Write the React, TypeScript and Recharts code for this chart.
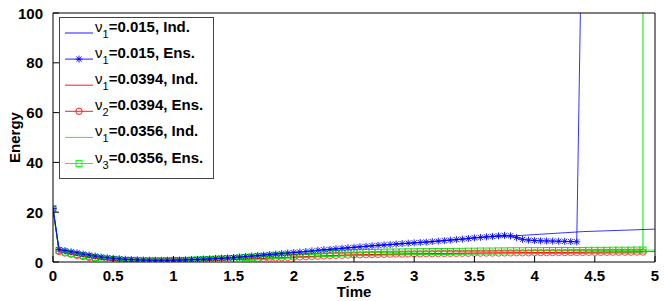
import React from 'react';
import { LineChart, Line, XAxis, YAxis, Legend } from 'recharts';

const FONT = '"Liberation Sans", Arial, Helvetica, sans-serif';
const STEP = 0.05;

const xTicks = [0, 0.5, 1, 1.5, 2, 2.5, 3, 3.5, 4, 4.5, 5];
const yTicks = [0, 20, 40, 60, 80, 100];

// ensemble runs, sampled every 0.05 from t = 0
const blueEns = [
  21.5, 5.0, 4.6, 4.1, 3.7, 3.2, 2.8, 2.4, 2.0, 1.7,
  1.5, 1.3, 1.1, 1.0, 0.9, 0.8, 0.75, 0.7, 0.7, 0.7,
  0.75, 0.8, 0.85, 0.95, 1.05, 1.15, 1.25, 1.4, 1.5, 1.65,
  1.8, 2.0, 2.2, 2.4, 2.6, 2.8, 3.0, 3.2, 3.4, 3.6,
  3.8, 4.0, 4.2, 4.45, 4.7, 4.9, 5.1, 5.3, 5.5, 5.7,
  5.9, 6.1, 6.3, 6.5, 6.7, 6.85, 7.0, 7.2, 7.4, 7.55,
  7.7, 7.85, 8.0, 8.2, 8.4, 8.6, 8.8, 9.0, 9.2, 9.45,
  9.7, 9.9, 10.1, 10.3, 10.5, 10.7, 10.5, 9.8, 9.1, 8.8,
  8.6, 8.5, 8.45, 8.4, 8.35, 8.3, 8.2, 8.1, 160,
];
const redEns = [
  21.5, 4.2, 3.6, 3.1, 2.6, 2.2, 1.8, 1.4, 1.1, 0.85,
  0.65, 0.5, 0.4, 0.3, 0.25, 0.2, 0.2, 0.2, 0.2, 0.25,
  0.3, 0.35, 0.4, 0.5, 0.55, 0.6, 0.7, 0.75, 0.8, 0.85,
  0.95, 1.05, 1.15, 1.25, 1.35, 1.45, 1.55, 1.65, 1.75, 1.85,
  1.95, 2.05, 2.15, 2.25, 2.35, 2.45, 2.55, 2.65, 2.7, 2.8,
  2.85, 2.9, 2.95, 3.0, 3.05, 3.1, 3.15, 3.2, 3.2, 3.25,
  3.3, 3.3, 3.35, 3.35, 3.4, 3.4, 3.45, 3.45, 3.5, 3.5,
  3.55, 3.55, 3.6, 3.6, 3.6, 3.65, 3.65, 3.7, 3.7, 3.7,
  3.75, 3.75, 3.75, 3.8, 3.8, 3.8, 3.85, 3.85, 3.85, 3.9,
  3.9, 3.9, 3.9, 3.95, 3.95, 3.95, 3.95, 4.0, 4.0,
];
const greenEns = [
  21.5, 4.6, 4.0, 3.5, 3.0, 2.6, 2.2, 1.8, 1.5, 1.2,
  1.0, 0.8, 0.65, 0.55, 0.5, 0.45, 0.45, 0.45, 0.45, 0.5,
  0.55, 0.6, 0.65, 0.75, 0.85, 0.95, 1.05, 1.15, 1.25, 1.35,
  1.45, 1.6, 1.75, 1.9, 2.05, 2.2, 2.35, 2.5, 2.6, 2.75,
  2.85, 2.95, 3.05, 3.15, 3.25, 3.35, 3.45, 3.5, 3.6, 3.65,
  3.7, 3.75, 3.8, 3.85, 3.9, 3.95, 4.0, 4.0, 4.05, 4.1,
  4.1, 4.15, 4.15, 4.2, 4.2, 4.25, 4.25, 4.3, 4.3, 4.35,
  4.35, 4.4, 4.4, 4.4, 4.45, 4.45, 4.5, 4.5, 4.5, 4.55,
  4.55, 4.55, 4.6, 4.6, 4.6, 4.6, 4.65, 4.65, 4.65, 4.7,
  4.7, 4.7, 4.7, 4.75, 4.75, 4.75, 4.75, 4.8, 4.8, 20000,
];

// individual runs (coarser samples)
const blueIndT = [0, 0.05, 0.1, 0.2, 0.3, 0.4, 0.5, 0.6, 0.7, 0.8, 0.9, 1.0, 1.2, 1.4, 1.6, 1.8, 2.0, 2.2, 2.4, 2.6, 2.8, 3.0, 3.2, 3.4, 3.6, 3.8, 4.4, 5.0];
const blueIndV = [21.5, 5.0, 4.6, 3.7, 2.8, 2.0, 1.5, 1.1, 0.9, 0.75, 0.7, 0.75, 1.05, 1.5, 2.2, 3.0, 3.8, 4.7, 5.5, 6.3, 7.0, 7.7, 8.4, 9.2, 10.1, 10.4, 12.2, 13.2];
const redIndT = [0, 0.05, 0.1, 0.2, 0.3, 0.4, 0.5, 0.6, 0.8, 1.0, 1.2, 1.4, 1.6, 1.8, 2.0, 2.2, 2.4, 2.6, 2.8, 3.0, 3.5, 4.0, 4.5, 5.0];
const redIndV = [21.5, 4.2, 3.6, 2.6, 1.8, 1.1, 0.65, 0.4, 0.2, 0.3, 0.55, 0.8, 1.15, 1.55, 1.95, 2.35, 2.7, 2.95, 3.15, 3.3, 3.6, 3.8, 4.0, 4.2];
const greenIndT = [0, 0.05, 0.1, 0.2, 0.3, 0.4, 0.5, 0.6, 0.8, 1.0, 1.2, 1.4, 1.6, 1.8, 2.0, 2.2, 2.4, 2.6, 2.8, 3.0, 3.5, 4.0, 4.5, 5.0];
const greenIndV = [21.5, 4.6, 4.0, 3.0, 2.2, 1.5, 1.0, 0.65, 0.45, 0.55, 0.85, 1.25, 1.75, 2.35, 2.85, 3.25, 3.6, 3.8, 4.0, 4.1, 4.35, 4.55, 4.7, 4.8];

const legendSubs = ['1', '1', '1', '2', '1', '3'];
const legendTexts = ['=0.015, Ind.', '=0.015, Ens.', '=0.0394, Ind.', '=0.0394, Ens.', '=0.0356, Ind.', '=0.0356, Ens.'];
const legendColors = ['#0000ff', '#0000ff', '#ff0000', '#ff0000', '#00ff00', '#00ff00'];
const legendMarkers = ['none', 'star', 'none', 'circle', 'none', 'square'];

const ens = (vals: number[]) => vals.map((v, i) => ({ t: Math.round(i * STEP * 100) / 100, v }));
const ind = (ts: number[], vals: number[]) => ts.map((t, i) => ({ t, v: vals[i] }));

// plot box in page pixels
const L = 53, R = 655, T = 13, B = 262;

const Marker = ({ kind, x, y, color }: any) => {
  if (kind === 'star') {
    const s = 3.5, d = 2.6;
    return (
      <g stroke={color} strokeWidth={0.9}>
        <line x1={x - s} x2={x + s} y1={y} y2={y} />
        <line x1={x} x2={x} y1={y - s} y2={y + s} />
        <line x1={x - d} x2={x + d} y1={y - d} y2={y + d} />
        <line x1={x - d} x2={x + d} y1={y + d} y2={y - d} />
      </g>
    );
  }
  if (kind === 'circle') return <circle cx={x} cy={y} r={3.2} fill="none" stroke={color} strokeWidth={0.9} />;
  if (kind === 'square') return <rect x={x - 3} y={y - 3} width={6} height={6} fill="none" stroke={color} strokeWidth={0.9} />;
  return null;
};

const dotOf = (kind: string, color: string) => (p: any) => {
  const { cx, cy, payload, index } = p;
  if (payload.v > 100 || cx == null) return <g key={`d-${kind}-${index}`} />;
  return (
    <g key={`d-${kind}-${index}`}>
      <Marker kind={kind} x={cx} y={cy} color={color} />
    </g>
  );
};

const renderLegend = () => (
  <svg width={156} height={163} style={{ display: 'block' }}>
    <rect x={0.5} y={0.5} width={154} height={161} fill="#fff" stroke="#444" />
    {legendTexts.map((txt, i) => {
      const cy = 16 + i * 26.1;
      return (
        <g key={txt}>
          <line x1={6} x2={34} y1={cy} y2={cy} stroke={legendColors[i]} strokeWidth={0.9} />
          <Marker kind={legendMarkers[i]} x={20} y={cy} color={legendColors[i]} />
          <text x={36} y={cy - 1} fontFamily={FONT} fontSize={15} fill="#000">
            <tspan>ν</tspan>
            <tspan dy={6} fontSize={11}>{legendSubs[i]}</tspan>
            <tspan dy={-6} fontWeight="bold">{txt}</tspan>
          </text>
        </g>
      );
    })}
  </svg>
);

const bottomTick = ({ x, payload }: any) => (
  <g>
    <line x1={x} x2={x} y1={B} y2={B - 6} stroke="#000" />
    <text x={x} y={B + 19} textAnchor="middle" fontFamily={FONT} fontSize={15} fontWeight="bold" fill="#000">
      {payload.value}
    </text>
  </g>
);
const topTick = ({ x }: any) => <line x1={x} x2={x} y1={T} y2={T + 6} stroke="#000" />;
const leftTick = ({ y, payload }: any) => (
  <g>
    <line x1={L} x2={L + 6} y1={y} y2={y} stroke="#000" />
    <text x={L - 10} y={y + 5.5} textAnchor="end" fontFamily={FONT} fontSize={15} fontWeight="bold" fill="#000">
      {payload.value}
    </text>
  </g>
);
const rightTick = ({ y }: any) => <line x1={R} x2={R - 6} y1={y} y2={y} stroke="#000" />;

export default function App() {
  return (
    <div style={{ position: 'absolute', left: 0, top: 0, width: 664, height: 301, background: '#fff' }}>
      <LineChart width={664} height={301} margin={{ top: T - 1, right: 664 - R - 1, bottom: 301 - B - 1, left: L - 1 }}>
        <XAxis
          type="number"
          dataKey="t"
          domain={[0, 5]}
          ticks={xTicks}
          height={1}
          allowDataOverflow
          axisLine={{ stroke: '#000' }}
          tickLine={false}
          tick={bottomTick}
          interval={0}
          label={{ value: 'Time', position: 'bottom', offset: 0, content: () => (
            <text x={(L + R) / 2} y={297} textAnchor="middle" fontFamily={FONT} fontSize={15} fontWeight="bold" fill="#000">Time</text>
          ) }}
        />
        <XAxis
          xAxisId="top"
          orientation="top"
          type="number"
          dataKey="t"
          domain={[0, 5]}
          ticks={xTicks}
          height={1}
          axisLine={{ stroke: '#000' }}
          tickLine={false}
          tick={topTick}
          interval={0}
        />
        <YAxis
          type="number"
          domain={[0, 100]}
          ticks={yTicks}
          width={1}
          allowDataOverflow
          axisLine={{ stroke: '#000' }}
          tickLine={false}
          tick={leftTick}
          interval={0}
          label={{ value: 'Energy', position: 'left', content: () => (
            <text x={20} y={(T + B) / 2} transform={`rotate(-90 20 ${(T + B) / 2})`} textAnchor="middle" fontFamily={FONT} fontSize={15} fontWeight="bold" fill="#000">Energy</text>
          ) }}
        />
        <YAxis
          yAxisId="right"
          orientation="right"
          type="number"
          domain={[0, 100]}
          ticks={yTicks}
          width={1}
          axisLine={{ stroke: '#000' }}
          tickLine={false}
          tick={rightTick}
          interval={0}
        />
        <Legend
          layout="horizontal"
          verticalAlign="middle"
          align="center"
          content={renderLegend}
          wrapperStyle={{ left: 59, top: 17, width: 156, height: 163 }}
        />
        <Line data={ind(redIndT, redIndV)} dataKey="v" stroke="#ff0000" strokeWidth={0.8} dot={false} activeDot={false} isAnimationActive={false} />
        <Line data={ens(redEns)} dataKey="v" stroke="#ff0000" strokeWidth={0.8} dot={dotOf('circle', '#ff3030')} activeDot={false} isAnimationActive={false} />
        <Line data={ind(greenIndT, greenIndV)} dataKey="v" stroke="#00ff00" strokeWidth={0.8} dot={false} activeDot={false} isAnimationActive={false} />
        <Line data={ens(greenEns)} dataKey="v" stroke="#22ee22" strokeWidth={1.2} dot={dotOf('square', '#00dd00')} activeDot={false} isAnimationActive={false} />
        <Line data={ind(blueIndT, blueIndV)} dataKey="v" stroke="#0000ff" strokeWidth={0.8} dot={false} activeDot={false} isAnimationActive={false} />
        <Line data={ens(blueEns)} dataKey="v" stroke="#0000ff" strokeWidth={0.8} dot={dotOf('star', '#0000ff')} activeDot={false} isAnimationActive={false} />
      </LineChart>
    </div>
  );
}
